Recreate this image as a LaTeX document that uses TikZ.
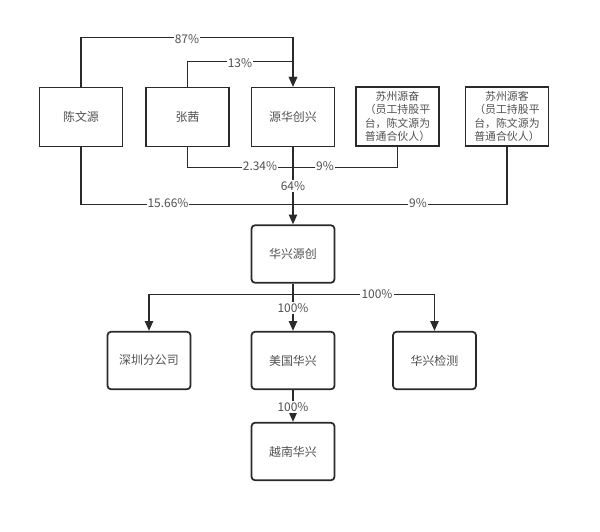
\documentclass[tikz,border=0pt]{standalone}
\usepackage{fontspec}
\setmainfont{Noto Sans CJK SC}
\usetikzlibrary{arrows.meta,calc}
\definecolor{edge}{HTML}{2A2A2A}
\definecolor{txt}{HTML}{505050}
\tikzset{
  firm/.style ={draw=edge, line width=1pt, minimum width=1.66cm, minimum height=1.18cm, inner sep=1pt, text=txt, font=\fontsize{6.8pt}{7.7pt}\selectfont, align=center},
  plat/.style ={firm, font=\fontsize{6.2pt}{7.6pt}\selectfont},
  sub/.style  ={firm, rounded corners=2pt, minimum height=1.15cm},
  own/.style  ={draw=edge, line width=0.95pt},
  arr/.style  ={own, -{Triangle[length=5.5pt,width=4.6pt]}},
  lab/.style  ={fill=white, inner sep=0.6pt, text=txt, font=\fontsize{6.8pt}{7.7pt}\selectfont},
}
\begin{document}
\begin{tikzpicture}[x=0.02cm, y=-0.02cm]
\useasboundingbox (0,0) rectangle (600,532);

% shareholders
\node[firm] (cwy)  at (81,117)    {陈文源};
\node[firm] (zq)   at (187.5,117) {张茜};
\node[firm] (yhcx) at (293,117)   {源华创兴};
\node[plat] (szyf) at (397.5,116.5) {苏州源奋\\（员工持股平\\台，陈文源为\\普通合伙人）};
\node[plat] (szyk) at (507,116.5)   {苏州源客\\（员工持股平\\台，陈文源为\\普通合伙人）};

% company and subsidiaries
\node[sub] (hxyc)  at (293,254)   {华兴源创};
\node[sub] (szfgs) at (149,360.5) {深圳分公司};
\node[sub] (mghx)  at (293,360.5) {美国华兴};
\node[sub] (hxjc)  at (434.5,360.5) {华兴检测};
\node[sub] (ynhx)  at (293,451.5) {越南华兴};

\draw[arr] (cwy.north) -- ++(0,-49) -| (yhcx.north);
\draw[arr] (zq.north) -- ++(0,-25) -| (yhcx.north);
\draw[own] (zq.south) -- ++(0,20) -| (szyf.south);
\draw[own] (cwy.south) -- ++(0,57) -| (szyk.south);
\draw[arr] (yhcx.south) -- (hxyc.north);

\draw[arr] (hxyc.south) -- ++(0,11) -| (szfgs.north);
\draw[arr] (hxyc.south) -- ++(0,11) -| (hxjc.north);
\draw[arr] (hxyc.south) -- (mghx.north);
\draw[arr] (mghx.south) -- (ynhx.north);

\node[lab] (p87)  at (187,39)  {87\%};
\node[lab] (p13)  at (240,63)  {13\%};
\node[lab] (p234) at (260,166) {2.34\%};
\node[lab] (p9a)  at (325,166) {9\%};
\node[lab] (p64)  at (293,186) {64\%};
\node[lab] (p1566) at (168,203) {15.66\%};
\node[lab] (p9b)  at (418,203) {9\%};
\node[lab] (p100a) at (377,294) {100\%};
\node[lab] (p100b) at (293,308) {100\%};
\node[lab] (p100c) at (293,407) {100\%};
\end{tikzpicture}
\end{document}
